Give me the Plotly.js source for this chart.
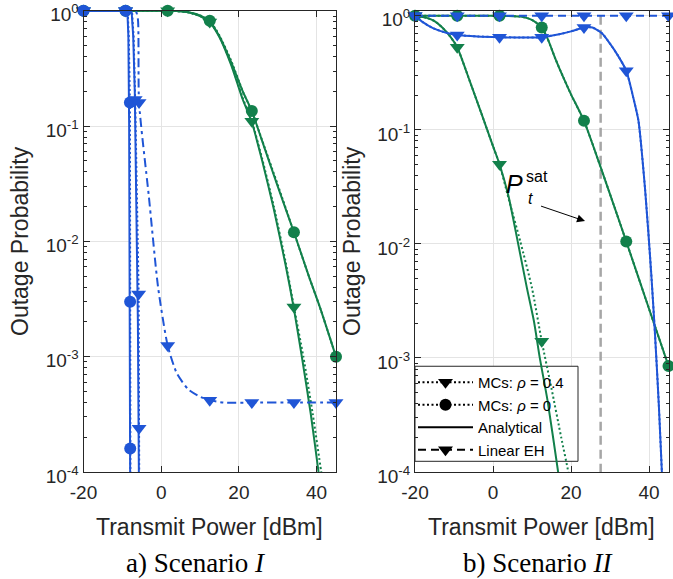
<!DOCTYPE html>
<html>
<head>
<meta charset="utf-8">
<script src="https://cdn.plot.ly/plotly-3.0.1.min.js"></script>
<style>
  html, body { margin: 0; padding: 0; background: #ffffff; }
  #chart { width: 673px; height: 579px; }
</style>
</head>
<body>
<div id="chart"></div>
<script>
// Transmit power grid where the Monte-Carlo markers sit (dBm)
const powerMarks = [-20, -9.17, 1.67, 12.5, 23.33, 34.17, 45];

// ---------- Scenario I ----------
// green, rho = 0
const s1G0AnaX = [-20, -5, 0, 4, 7, 10, 12.5, 15, 18, 21, 23.33, 26, 30, 34.17, 38, 41, 45];
const s1G0AnaY = [1, 1, 1, 0.995, 0.97, 0.91, 0.81, 0.6, 0.36, 0.2, 0.135, 0.074, 0.03, 0.012, 0.005, 0.0026, 0.001];
const s1G0McX  = [-20, -5, 0, 4, 7, 10, 12.5, 15, 18, 21, 23.33, 26, 30, 34.17, 38, 41, 45];
const s1G0McY  = [1, 1, 1, 0.995, 0.97, 0.91, 0.82, 0.61, 0.37, 0.2, 0.135, 0.075, 0.031, 0.012, 0.005, 0.0026, 0.001];
const s1G0MkY  = [1, 1, 1, 0.82, 0.135, 0.012, 0.001];
// green, rho = 0.4
const s1G4AnaX = [-20, -5, 0, 4, 7, 10, 12.5, 15, 18, 21, 23.33, 26, 29, 32, 34.17, 36.2, 38.5, 40.5, 42];
const s1G4AnaY = [1, 1, 1, 0.995, 0.97, 0.9, 0.79, 0.59, 0.34, 0.17, 0.108, 0.05, 0.019, 0.0063, 0.0026, 0.001, 0.00032, 0.0001, 0.00004];
const s1G4McX  = [-20, -5, 0, 4, 7, 10, 12.5, 15, 18, 21, 23.33, 26, 29, 32, 34.17, 36.6, 39, 41.2, 42.5];
const s1G4McY  = [1, 1, 1, 0.995, 0.97, 0.9, 0.8, 0.6, 0.35, 0.175, 0.11, 0.052, 0.02, 0.0067, 0.0027, 0.001, 0.00032, 0.0001, 0.00005];
const s1G4MkX  = [-20, -9.17, 1.67, 12.5, 23.33, 34.17];
const s1G4MkY  = [1, 1, 1, 0.8, 0.11, 0.0027];
// blue, rho = 0
const s1B0AnaX = [-20, -9.17, -8.7, -8.45, -8.25, -8.1, -8.0, -7.95];
const s1B0AnaY = [1, 1, 0.97, 0.6, 0.1, 0.005, 0.0002, 0.00003];
const s1B0McX  = [-20, -9.17, -8.6, -8.35, -8.05, -8.0, -7.97, -7.9];
const s1B0McY  = [1, 1, 0.97, 0.6, 0.16, 0.003, 0.00016, 0.00003];
const s1B0MkX  = [-20, -9.17, -8.05, -8.0, -7.97];
const s1B0MkY  = [1, 1, 0.16, 0.003, 0.00016];
// blue, rho = 0.4
const s1B4AnaX = [-20, -9.17, -7.6, -7.2, -6.8, -6.4, -6.0, -5.75, -5.65];
const s1B4AnaY = [1, 1, 0.97, 0.6, 0.2, 0.03, 0.002, 0.0001, 0.00003];
const s1B4McX  = [-20, -9.17, -7.5, -7.1, -6.7, -6.2, -5.8, -5.7, -5.6];
const s1B4McY  = [1, 1, 0.97, 0.6, 0.17, 0.02, 0.0035, 0.00024, 0.00003];
const s1B4MkX  = [-20, -9.17, -6.7, -5.8, -5.7];
const s1B4MkY  = [1, 1, 0.17, 0.0035, 0.00024];
// blue, linear energy harvester
const s1LinX   = [-20, -9.17, -6.6, -6.0, -5.7, -3.2, -0.8, 1.67, 4, 7, 10, 12.5, 16, 23.33, 34.17, 45];
const s1LinY   = [1, 1, 1, 0.85, 0.16, 0.025, 0.004, 0.00125, 0.00072, 0.00052, 0.00045, 0.00042, 0.0004, 0.0004, 0.0004, 0.0004];
const s1LinMkX = [-20, -9.17, -5.7, 1.67, 12.5, 23.33, 34.17, 45];
const s1LinMkY = [1, 1, 0.16, 0.00125, 0.00042, 0.0004, 0.0004, 0.0004];

// ---------- Scenario II ----------
// green, rho = 0
const s2G0AnaX = [-20, 0, 4, 7, 9, 10.5, 12.5, 14, 16, 18, 20, 23.33, 28, 34.17, 40, 45];
const s2G0AnaY = [1, 1, 0.997, 0.985, 0.95, 0.9, 0.79, 0.63, 0.42, 0.29, 0.205, 0.12, 0.043, 0.0105, 0.0027, 0.00085];
const s2G0McX  = [-20, 0, 4, 7, 9, 10.5, 12.5, 14, 16, 18, 20, 23.33, 28, 34.17, 40, 45];
const s2G0McY  = [1, 1, 0.997, 0.985, 0.95, 0.9, 0.79, 0.63, 0.42, 0.29, 0.205, 0.12, 0.043, 0.0105, 0.0027, 0.00085];
const s2G0MkY  = [1, 1, 1, 0.79, 0.12, 0.0105, 0.00085];
// green, rho = 0.4
const s2G4AnaX = [-20, -17, -15, -13, -11, -9.17, -6, -3, 0, 1.67, 4, 6, 8.7, 10.5, 12, 14, 16.7, 18];
const s2G4AnaY = [1, 0.96, 0.9, 0.79, 0.66, 0.53, 0.27, 0.14, 0.072, 0.05, 0.026, 0.012, 0.0041, 0.0021, 0.001, 0.00042, 0.0001, 0.00005];
const s2G4McX  = [-20, -17, -15, -13, -11, -9.17, -6, -3, 0, 1.67, 4, 7, 10, 12.5, 15, 17.5, 19.3, 20.5];
const s2G4McY  = [1, 0.96, 0.9, 0.79, 0.66, 0.53, 0.27, 0.14, 0.072, 0.05, 0.025, 0.0105, 0.0041, 0.0014, 0.00054, 0.0002, 0.0001, 0.00005];
const s2G4MkX  = [-20, -9.17, 1.67, 12.5];
const s2G4MkY  = [1, 0.53, 0.05, 0.0014];
// blue, rho = 0.4
const s2B4AnaX = [-20, -18, -15.4, -12, -9.17, -4, 1.67, 7, 12.5, 17, 20, 23.33, 25.5, 28, 30, 32, 34.17, 36, 37.3, 39, 40.5, 41.5, 42.5, 43.3, 44];
const s2B4AnaY = [1, 0.88, 0.78, 0.71, 0.68, 0.66, 0.65, 0.645, 0.65, 0.69, 0.73, 0.79, 0.79, 0.7, 0.57, 0.45, 0.33, 0.19, 0.12, 0.03, 0.006, 0.0017, 0.0004, 0.0001, 0.00003];
const s2B4McX  = [-20, -18, -15.4, -12, -9.17, -4, 1.67, 7, 12.5, 17, 20, 23.33, 25.5, 28, 30, 32, 34.17, 36, 37.3, 39, 40.5, 41.5, 42.5, 43.3, 44];
const s2B4McY  = [1, 0.88, 0.78, 0.71, 0.68, 0.66, 0.65, 0.645, 0.65, 0.69, 0.73, 0.79, 0.79, 0.7, 0.57, 0.45, 0.33, 0.19, 0.12, 0.03, 0.006, 0.0017, 0.0004, 0.0001, 0.00003];
const s2B4MkX  = [-20, -9.17, 1.67, 12.5, 23.33, 34.17];
const s2B4MkY  = [1, 0.68, 0.65, 0.65, 0.79, 0.33];
// blue, linear energy harvester
const s2LinY   = [1, 1, 1, 1, 1, 1, 1];
// saturation transmit power (dBm)
const pSat = 27.6;
const pSatY = [1, 0.0001];

// y-axis decade ticks
const decadeVals = [0.0001, 0.001, 0.01, 0.1, 1];
const decadeText = ['10<sup>-4</sup>', '10<sup>-3</sup>', '10<sup>-2</sup>', '10<sup>-1</sup>', '10<sup>0</sup>'];
const xTickVals = [-20, 0, 20, 40];

const BLUE = '#1f55d6';
const GREEN = '#12804b';
const INK = '#262626';
const FONT = 'Liberation Sans, Arial, Helvetica, sans-serif';
const SERIF = 'Liberation Serif, Times New Roman, serif';

function curve(x, y, color, dash, xa, ya, shape) {
  return {
    type: 'scatter', mode: 'lines', x: x, y: y, xaxis: xa, yaxis: ya,
    line: { color: color, width: 2, dash: dash, shape: shape || 'linear', smoothing: 0.6 },
    showlegend: false, hoverinfo: 'skip'
  };
}
function marks(x, y, color, symbol, xa, ya) {
  return {
    type: 'scatter', mode: 'markers', x: x, y: y, xaxis: xa, yaxis: ya,
    marker: { color: color, symbol: symbol, size: symbol === 'circle' ? 12 : 13, line: { width: 0 } },
    cliponaxis: false, showlegend: false, hoverinfo: 'skip'
  };
}
function keyEntry(name, dash, symbol) {
  return {
    type: 'scatter', x: [null], y: [null], xaxis: 'x2', yaxis: 'y2', name: name,
    mode: symbol ? 'lines+markers' : 'lines',
    line: { color: '#000000', width: 2, dash: dash },
    marker: { color: '#000000', symbol: symbol || 'circle', size: symbol === 'circle' ? 12 : 13 },
    showlegend: true, hoverinfo: 'skip'
  };
}

// legend frame on the Scenario II axes (pixel edges converted to axis values)
const legX0 = -20, legX1 = (578 - 415) / 3.9 - 20;
const legY0 = Math.pow(10, -(461 - 15.7) / 114), legY1 = Math.pow(10, -(366 - 15.7) / 114);

const DOT = '2px,2.5px';
const traces = [
  // Scenario I
  curve(s1G0AnaX, s1G0AnaY, GREEN, 'solid', 'x', 'y', 'spline'),
  curve(s1G0McX, s1G0McY, GREEN, DOT, 'x', 'y', 'spline'),
  curve(s1G4AnaX, s1G4AnaY, GREEN, 'solid', 'x', 'y', 'spline'),
  curve(s1G4McX, s1G4McY, GREEN, DOT, 'x', 'y', 'spline'),
  marks(powerMarks, s1G0MkY, GREEN, 'circle', 'x', 'y'),
  marks(s1G4MkX, s1G4MkY, GREEN, 'triangle-down', 'x', 'y'),
  curve(s1B0AnaX, s1B0AnaY, BLUE, 'solid', 'x', 'y'),
  curve(s1B0McX, s1B0McY, BLUE, DOT, 'x', 'y'),
  curve(s1B4AnaX, s1B4AnaY, BLUE, 'solid', 'x', 'y'),
  curve(s1B4McX, s1B4McY, BLUE, DOT, 'x', 'y'),
  curve(s1LinX, s1LinY, BLUE, '9px,4px,3px,4px', 'x', 'y', 'spline'),
  marks(s1B0MkX, s1B0MkY, BLUE, 'circle', 'x', 'y'),
  marks(s1B4MkX, s1B4MkY, BLUE, 'triangle-down', 'x', 'y'),
  marks(s1LinMkX, s1LinMkY, BLUE, 'triangle-down', 'x', 'y'),

  // Scenario II: legend panel first, so the curves pass over it
  {
    type: 'scatter', mode: 'lines', xaxis: 'x2', yaxis: 'y2',
    x: [legX0, legX1, legX1, legX0, legX0], y: [legY0, legY0, legY1, legY1, legY0],
    fill: 'toself', fillcolor: '#ffffff', line: { color: INK, width: 1 },
    showlegend: false, hoverinfo: 'skip'
  },
  {
    type: 'scatter', mode: 'lines', x: [pSat, pSat], y: pSatY, xaxis: 'x2', yaxis: 'y2',
    line: { color: '#a6a6a6', width: 2.5, dash: '9px,5px' }, showlegend: false, hoverinfo: 'skip'
  },
  curve(s2G0AnaX, s2G0AnaY, GREEN, 'solid', 'x2', 'y2', 'spline'),
  curve(s2G0McX, s2G0McY, GREEN, DOT, 'x2', 'y2', 'spline'),
  curve(s2G4AnaX, s2G4AnaY, GREEN, 'solid', 'x2', 'y2', 'spline'),
  curve(s2G4McX, s2G4McY, GREEN, DOT, 'x2', 'y2', 'spline'),
  marks(powerMarks, s2G0MkY, GREEN, 'circle', 'x2', 'y2'),
  marks(s2G4MkX, s2G4MkY, GREEN, 'triangle-down', 'x2', 'y2'),
  curve(s2B4AnaX, s2B4AnaY, BLUE, 'solid', 'x2', 'y2', 'spline'),
  curve(s2B4McX, s2B4McY, BLUE, DOT, 'x2', 'y2', 'spline'),
  marks(s2B4MkX, s2B4MkY, BLUE, 'triangle-down', 'x2', 'y2'),
  curve(powerMarks, s2LinY, BLUE, '8px,5px', 'x2', 'y2'),
  marks(powerMarks, s2LinY, BLUE, 'triangle-down', 'x2', 'y2'),

  // legend keys
  keyEntry('MCs: <i>ρ</i> = 0.4', DOT, 'triangle-down'),
  keyEntry('MCs: <i>ρ</i> = 0', DOT, 'circle'),
  keyEntry('Analytical', 'solid', null),
  keyEntry('Linear EH', '8px,5px', 'triangle-down')
];

// minor log ticks: 2..9 within each decade
const minorVals = [];
for (let e = -4; e < 0; e++) {
  for (let m = 2; m <= 9; m++) minorVals.push(m * Math.pow(10, e));
}

const W = 673, H = 579;
const px = v => v / W;
const py = v => 1 - v / H;

function xAxis(domain, anchor) {
  return {
    domain: domain, anchor: anchor, range: [-20, 45],
    tickmode: 'array', tickvals: xTickVals, ticktext: xTickVals.map(String),
    ticks: 'inside', ticklen: 6, tickwidth: 1, tickcolor: INK,
    showline: true, linecolor: INK, linewidth: 1, mirror: 'ticks',
    showgrid: true, gridcolor: '#e4e4e4', gridwidth: 1, zeroline: false,
    ticklabeloverflow: 'allow', ticklabelstandoff: 3,
    tickfont: { family: FONT, size: 19, color: INK }
  };
}
function yAxis(top, anchor) {
  return {
    type: 'log', domain: [py(472), py(10.8)], anchor: anchor, range: [-4, top],
    tickmode: 'array', tickvals: decadeVals, ticktext: decadeText,
    ticks: 'inside', ticklen: 6, tickwidth: 1, tickcolor: INK,
    minor: { tickmode: 'array', tickvals: minorVals, ticks: 'inside', ticklen: 3, tickcolor: INK, showgrid: false },
    showline: true, linecolor: INK, linewidth: 1, mirror: 'ticks',
    showgrid: true, gridcolor: '#e4e4e4', gridwidth: 1, zeroline: false,
    ticklabeloverflow: 'allow', ticklabelshift: 4,
    tickfont: { family: FONT, size: 19, color: INK }
  };
}

function label(text, x, y, font, extra) {
  return Object.assign({
    text: text, xref: 'paper', yref: 'paper', x: px(x), y: py(y),
    xanchor: 'center', yanchor: 'middle', showarrow: false, font: font
  }, extra || {});
}

const textFont = { family: FONT, size: 23, color: INK };
const capFont = { family: SERIF, size: 27, color: '#000000' };
const layout = {
  width: W, height: H,
  margin: { l: 0, r: 0, t: 0, b: 0 },
  paper_bgcolor: '#ffffff', plot_bgcolor: '#ffffff',
  xaxis: xAxis([px(83.5), px(336)], 'y'),
  yaxis: yAxis(0, 'x'),
  xaxis2: xAxis([px(415), px(668.5)], 'y2'),
  yaxis2: yAxis(0.044, 'x2'),
  showlegend: true,
  legend: {
    x: px(413), y: py(366), xanchor: 'left', yanchor: 'top',
    bgcolor: 'rgba(0,0,0,0)', borderwidth: 0,
    itemwidth: 55, tracegroupgap: 0,
    font: { family: FONT, size: 15, color: '#000000' }
  },
  annotations: [
    label('Outage Probability', 20, 241, textFont, { textangle: -90 }),
    label('Outage Probability', 352, 241, textFont, { textangle: -90 }),
    label('Transmit Power [dBm]', 209, 527, textFont),
    label('Transmit Power [dBm]', 541, 527, textFont),
    label('a) Scenario <i>I</i>', 196, 563, capFont),
    label('b) Scenario <i>II</i>', 537.5, 563, capFont),
    label('<i>P</i>', 514, 184, { family: FONT, size: 25, color: '#000000' }),
    label('sat', 537, 176, { family: FONT, size: 16, color: '#000000' }),
    label('<i>t</i>', 530, 199, { family: FONT, size: 16, color: '#000000' }),
    {
      text: ' ', xref: 'x2', yref: 'y2', x: 23.6, y: -1.80,
      showarrow: true, axref: 'pixel', ayref: 'pixel', ax: -47, ay: -16,
      arrowhead: 2, arrowsize: 1.6, arrowwidth: 1, arrowcolor: '#000000', standoff: 0
    }
  ]
};

Plotly.newPlot('chart', traces, layout, { displayModeBar: false, staticPlot: true });
</script>
</body>
</html>
